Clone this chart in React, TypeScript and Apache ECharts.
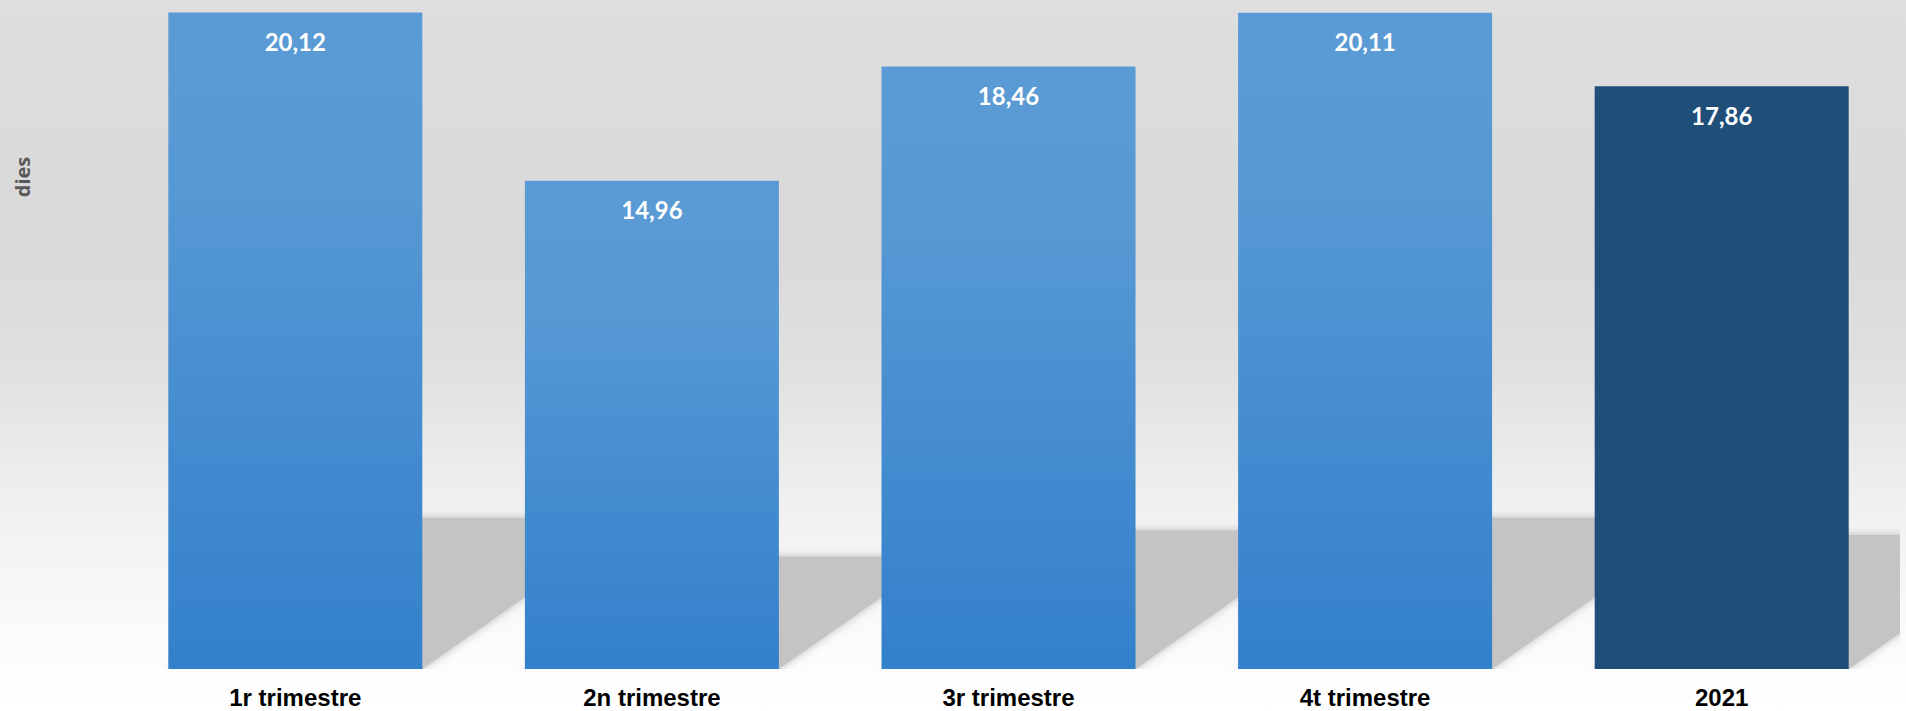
import React, { useEffect, useRef } from "react";
import * as echarts from "echarts";

const categories = ["1r trimestre", "2n trimestre", "3r trimestre", "4t trimestre", "2021"];
const values = [20.12, 14.96, 18.46, 20.11, 17.86];
const yAxisName = "dies";
const highlightIndex = 4;

const BAR_W = 254;

function fmt(v: number) {
  return v.toFixed(2).replace(".", ",");
}

export default function App() {
  const ref = useRef<HTMLDivElement>(null);
  useEffect(() => {
    if (!ref.current) return;
    const chart = echarts.init(ref.current, null, { renderer: "svg" });
    const blueGrad = new echarts.graphic.LinearGradient(0, 0, 0, 1, [
      { offset: 0, color: "#5b9bd5" },
      { offset: 0.25, color: "#5799d4" },
      { offset: 1, color: "#3380cb" },
    ]);
    chart.setOption({
      animation: false,
      backgroundColor: new echarts.graphic.LinearGradient(0, 0, 0, 1, [
        { offset: 0, color: "#dedede" },
        { offset: 0.33, color: "#d9d9d9" },
        { offset: 0.5, color: "#dfdfdf" },
        { offset: 0.72, color: "#f1f1f1" },
        { offset: 0.9, color: "#fbfbfb" },
        { offset: 1, color: "#ffffff" },
      ]),
      grid: { left: 117, right: 6, top: 0, bottom: 42, containLabel: false },
      xAxis: {
        type: "category",
        data: categories,
        axisLine: { show: false },
        axisTick: { show: false },
        axisLabel: {
          margin: 16,
          fontFamily: "Liberation Sans",
          fontWeight: "bold",
          fontSize: 24,
          color: "#000000",
        },
      },
      yAxis: {
        type: "value",
        min: 0,
        max: 20.5,
        show: false,
        splitLine: { show: false },
      },
      graphic: [
        {
          type: "text",
          x: 22,
          y: 177,
          rotation: Math.PI / 2,
          style: {
            text: yAxisName,
            fontFamily: "Open Sans",
            fontWeight: "bold",
            fontSize: 20,
            fill: "#595959",
            align: "center",
            verticalAlign: "middle",
          },
        },
      ],
      series: [
        {
          type: "custom",
          z: 1,
          clip: true,
          silent: true,
          data: values.map((v, i) => [i, v]),
          encode: { x: 0, y: 1 },
          renderItem: (params: any, api: any) => {
            const idx = api.value(0);
            const v = api.value(1);
            const top = api.coord([idx, v]);
            const base = api.coord([idx, 0]);
            const H = base[1] - top[1];
            const hs = 0.23 * H;
            const dx = hs / 0.7;
            const L = base[0] - BAR_W / 2;
            const R = base[0] + BAR_W / 2;
            return {
              type: "polygon",
              shape: {
                points: [
                  [L, base[1]],
                  [R, base[1]],
                  [R + dx, base[1] - hs],
                  [L + dx, base[1] - hs],
                ],
              },
              style: {
                fill: "#c4c4c4",
                shadowBlur: 8,
                shadowColor: "rgba(160,160,160,0.7)",
              },
            };
          },
        },
        {
          type: "bar",
          z: 2,
          barWidth: BAR_W,
          data: values.map((v, i) => ({
            value: v,
            itemStyle: { color: i === highlightIndex ? "#1f4e79" : blueGrad },
          })),
          label: {
            show: true,
            position: "insideTop",
            distance: 17,
            formatter: (p: any) => fmt(p.value),
            fontFamily: "Lato",
            fontWeight: "bold",
            fontSize: 24,
            color: "#ffffff",
          },
        },
      ],
    });
    return () => chart.dispose();
  }, []);
  return <div ref={ref} style={{ position: "fixed", left: 0, top: 0, width: 1906, height: 711 }} />;
}
